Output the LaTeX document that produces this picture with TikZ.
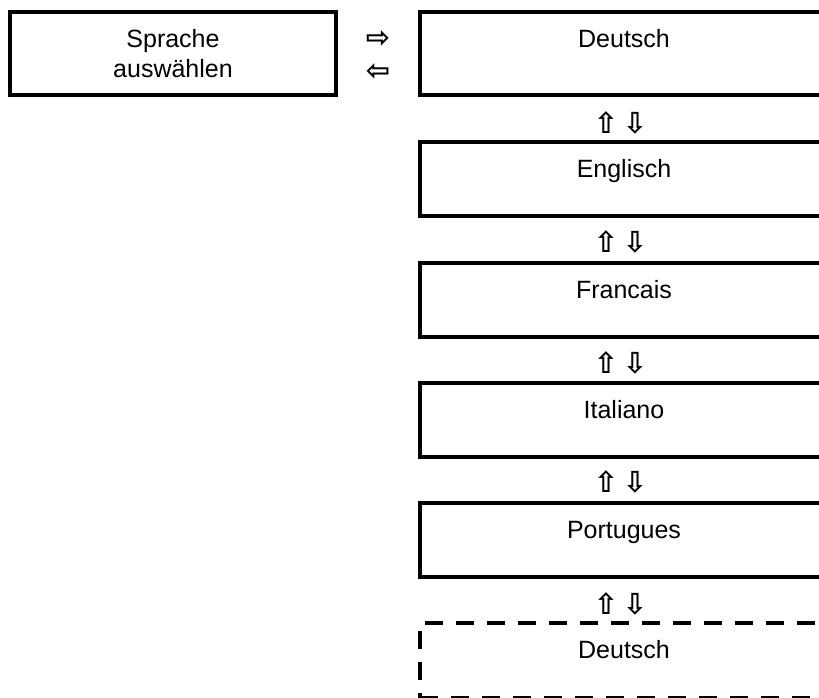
\documentclass[tikz,border=0pt]{standalone}
\usepackage{fontspec}
\setmainfont{Liberation Sans}
\newfontfamily\pfeilfont{DejaVu Sans}
\tikzset{
  menu/.style={draw, line width=4pt, outer sep=0pt, inner sep=0pt, anchor=north west, minimum width=408pt, minimum height=74pt},
  eintrag/.style={anchor=base, inner sep=0pt, font=\fontsize{25}{30}\selectfont},
  pfeil/.style={inner sep=0pt, font=\pfeilfont\bfseries\fontsize{29}{32}\selectfont}
}
\begin{document}
\begin{tikzpicture}[x=1pt,y=-1pt]
\useasboundingbox (0,0) rectangle (819,697);
\node [draw, line width=4pt, outer sep=0pt, minimum width=326pt, minimum height=83pt, align=center, font=\fontsize{25}{30}\selectfont] (auswahl) at (173,53.5) {Sprache\\auswählen};
\node [pfeil] (hin) at (378,39) {⇨};
\node [pfeil] (zurueck) at (378,72) {⇦};
\node [menu, minimum height=83pt] (deutsch) at (420,12) {};
\node [eintrag] (deutschtext) at ([yshift=-35pt]deutsch.north) {Deutsch};
\node [pfeil] (hoch1) at (606,123) {⇧};
\node [pfeil] (runter1) at (635,123) {⇩};
\node [menu] (englisch) at (420,142) {};
\node [eintrag] (englischtext) at ([yshift=-35pt]englisch.north) {Englisch};
\node [pfeil] (hoch2) at (606,242) {⇧};
\node [pfeil] (runter2) at (635,242) {⇩};
\node [menu] (francais) at (420,263) {};
\node [eintrag] (francaistext) at ([yshift=-35pt]francais.north) {Francais};
\node [pfeil] (hoch3) at (606,363) {⇧};
\node [pfeil] (runter3) at (635,363) {⇩};
\node [menu] (italiano) at (420,383) {};
\node [eintrag] (italianotext) at ([yshift=-35pt]italiano.north) {Italiano};
\node [pfeil] (hoch4) at (606,482) {⇧};
\node [pfeil] (runter4) at (635,482) {⇩};
\node [menu] (portugues) at (420,503) {};
\node [eintrag] (portuguestext) at ([yshift=-35pt]portugues.north) {Portugues};
\node [pfeil] (hoch5) at (606,604) {⇧};
\node [pfeil] (runter5) at (635,604) {⇩};
\node [menu, dash pattern=on 18pt off 13pt, minimum height=75pt] (deutsch2) at (420,623) {};
\node [eintrag] (deutsch2text) at ([yshift=-35pt]deutsch2.north) {Deutsch};

\end{tikzpicture}
\end{document}
